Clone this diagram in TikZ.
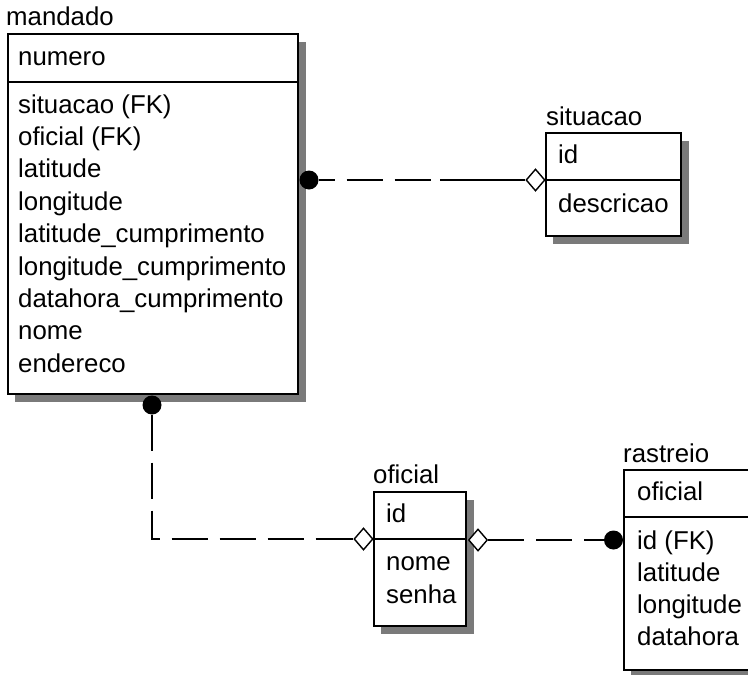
\documentclass[tikz,border=0pt]{standalone}
\usepackage{fontspec}
\setmainfont{Liberation Sans}
\usetikzlibrary{shapes.geometric,calc}
\newcommand\erfont{\fontsize{25.8}{32.4}\selectfont}
\begin{document}
\begin{tikzpicture}[x=1pt,y=-1pt,
  entity/.style={draw=black,line width=1.7pt,fill=white,inner sep=0pt,anchor=north west},
  shadowbox/.style={fill=black!52},
  title/.style={anchor=base west,inner sep=0pt,font=\erfont},
  field/.style={anchor=base west,inner sep=0pt,font=\erfont},
  sepline/.style={line width=1.7pt},
  rel/.style={line width=1.8pt,dash pattern=on 36pt off 12pt},
  relsolid/.style={line width=1.8pt},
  optend/.style={diamond,draw=black,line width=1.4pt,fill=white,inner sep=0pt,
                 minimum width=19pt,minimum height=22pt},
  manyend/.style={circle,fill=black,inner sep=0pt,minimum size=19pt}
]
\clip (0,0) rectangle (748,675);
\fill[white] (0,0) rectangle (748,675);

% ---- mandado ----
\fill[shadowbox] (15,42) rectangle (306,402);
\node[entity,minimum width=290pt,minimum height=360pt] (mandado) at (7,33) {};
\node[title] (tmandado) at (6,25) {mandado};
\draw[sepline] ($(mandado.north west)+(0,49)$) -- ($(mandado.north east)+(0,49)$);
\node[field] (mkey) at (18,65) {numero};
\foreach \t [count=\i] in {situacao (FK),oficial (FK),latitude,longitude,
    latitude\_cumprimento,longitude\_cumprimento,datahora\_cumprimento,nome,endereco}
  \node[field] (m\i) at (18,{113+(\i-1)*32.4}) {\t};

% ---- situacao ----
\fill[shadowbox] (553,141) rectangle (689,244);
\node[entity,minimum width=135pt,minimum height=103pt] (situacao) at (545,132) {};
\node[title] (tsituacao) at (546,125) {situacao};
\draw[sepline] ($(situacao.north west)+(0,48)$) -- ($(situacao.north east)+(0,48)$);
\node[field] (skey) at (558,163) {id};
\node[field] (s1) at (558,212) {descricao};

% ---- oficial ----
\fill[shadowbox] (381,500) rectangle (474,634);
\node[entity,minimum width=92pt,minimum height=134pt] (oficial) at (373,491) {};
\node[title] (toficial) at (373,483) {oficial};
\draw[sepline] ($(oficial.north west)+(0,48)$) -- ($(oficial.north east)+(0,48)$);
\node[field] (okey) at (386,522) {id};
\node[field] (o1f) at (386,570) {nome};
\node[field] (o2f) at (386,603) {senha};

% ---- rastreio ----
\fill[shadowbox] (631,478) rectangle (770,678);
\node[entity,minimum width=140pt,minimum height=200pt] (rastreio) at (623,469) {};
\node[title] (trastreio) at (623,462) {rastreio};
\draw[sepline] ($(rastreio.north west)+(0,48)$) -- ($(rastreio.north east)+(0,48)$);
\node[field] (rkey) at (637,500) {oficial};
\foreach \t [count=\i] in {id (FK),latitude,longitude,datahora}
  \node[field] (r\i) at (637,{549+(\i-1)*32.1}) {\t};

% ---- relationship ends ----
\node[manyend] (d1) at (309,180) {};
\node[optend]  (e1) at (535.5,180) {};
\node[manyend] (d2) at (152,405) {};
\node[optend]  (e2) at (363.5,539) {};
\node[optend]  (e3) at (478,540) {};
\node[manyend] (d3) at (613.5,540) {};

% ---- relationships ----
\draw[rel,dash phase=20pt] (d1) -- (e1.west);
\draw[relsolid] (e1.west) -- ++(-85,0);
\draw[rel] (d2) |- (e2.west);
\draw[relsolid] (e2.west) -- ++(-36,0);
\draw[rel] (e3.east) -- (d3);
\end{tikzpicture}
\end{document}
